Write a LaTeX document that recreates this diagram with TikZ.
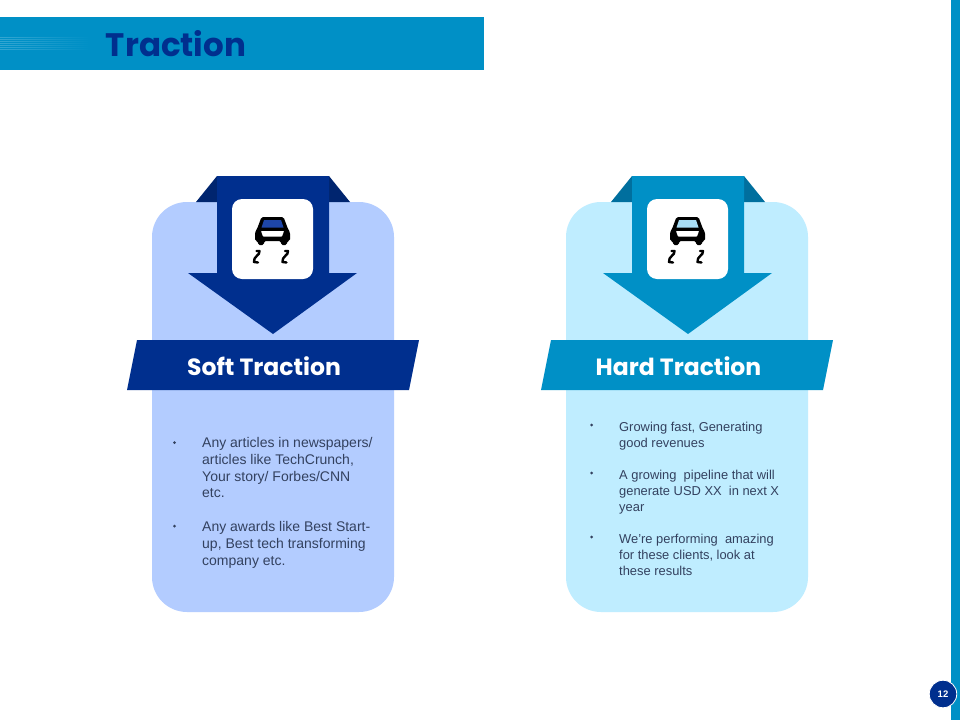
\documentclass[tikz,border=0pt]{standalone}
\usepackage{fontspec}
\setmainfont{Liberation Sans}
\newfontfamily\headfont{Poppins}
\usetikzlibrary{calc}
\definecolor{navy}{HTML}{002F8E}
\definecolor{navyfold}{HTML}{00256F}
\definecolor{cyanbar}{HTML}{0090C6}
\definecolor{cyanfold}{HTML}{006F9E}
\definecolor{softcard}{HTML}{B3CCFF}
\definecolor{hardcard}{HTML}{BFEDFF}
\definecolor{softglass}{HTML}{1E46A8}
\definecolor{hardglass}{HTML}{A8DDF5}
\definecolor{bodytext}{HTML}{33415F}
\tikzset{
  x=1pt,y=-1pt,
  headline/.style={font=\headfont\bfseries\fontsize{23.5}{28}\selectfont,text=white,inner sep=0pt},
  softbody/.style={font=\fontsize{14}{16.6}\selectfont,text=bodytext,align=left,anchor=north west,inner sep=0pt},
  hardbody/.style={font=\fontsize{12.9}{16}\selectfont,text=bodytext,align=left,anchor=north west,inner sep=0pt},
  dotmark/.style={circle,fill=bodytext,inner sep=0pt,minimum size=3pt},
  skid/.style={draw=black,line width=2.4pt,line cap=round,line join=round,fill=none},
  pics/arrowicon/.style n args={3}{code={
    % folds
    \fill[#2] (196,202) -- (217,176) -- (217,202) -- cycle;
    \fill[#2] (329,176) -- (350,202) -- (329,202) -- cycle;
    % arrow
    \fill[#1] (217,176) -- (329,176) -- (329,273) -- (357,273) -- (273,334) -- (188,273) -- (217,273) -- cycle;
    % icon tile
    \fill[white,rounded corners=10] (232,199) rectangle (313,279);
    % car
    \fill[black,rounded corners=1.6] (261.5,217) -- (283.5,217) -- (288,229) -- (290,232) -- (290,241) -- (287,241) -- (287,245) -- (281,245) -- (281,241) -- (264,241) -- (264,245) -- (258,245) -- (258,241) -- (255,241) -- (255,232) -- (257,229) -- cycle;
    \fill[#3] (264,220) -- (281,220) -- (283.5,227.5) -- (261.5,227.5) -- cycle;
    \fill[white,rounded corners=0.6] (261,231) -- (284,231) -- (282,236.5) -- (263,236.5) -- cycle;
    % skid marks
    \draw[skid] (256.5,251) -- (259.5,251) .. controls (260.5,255) and (253,256.5) .. (254,262) -- (258,262.5);
    \draw[skid] (285,251) -- (288,251) .. controls (289,255) and (281.5,256.5) .. (282.5,262) -- (286.5,262.5);
  }}
}
\begin{document}
\begin{tikzpicture}
\useasboundingbox (0,0) rectangle (960,720);
\fill[white] (0,0) rectangle (960,720);
% title band
\fill[cyanbar] (0,17) rectangle (484,70);
\foreach \yy in {37,39,41,43,45,47,49}{
  \shade[left color=cyanbar!80!white,right color=cyanbar] (0,\yy) rectangle (90,\yy+0.7);
}
\node[font=\headfont\bfseries\fontsize{32.5}{36}\selectfont,text=navy,inner sep=0pt] (title) at (176,44) {Traction};
% right edge strip
\fill[cyanbar] (951,0) rectangle (960,720);
\node[circle,fill=navy,draw=white,line width=0.8pt,minimum size=27.5pt,inner sep=0pt,font=\bfseries\fontsize{9.5}{10}\selectfont,text=white] (page) at (943,694) {12};

% cards
\fill[softcard,rounded corners=35] (152,202) rectangle (394,612);
\fill[hardcard,rounded corners=35] (566,202) rectangle (808,612);
% arrows and icons
\pic {arrowicon={navy}{navyfold}{softglass}};
\begin{scope}[shift={(415,0)}]
\pic {arrowicon={cyanbar}{cyanfold}{hardglass}};
\end{scope}

% banners
\fill[navy] (137,340) -- (419,340) -- (409,390) -- (127,390) -- cycle;
\fill[cyanbar] (551,340) -- (833,340) -- (823,390) -- (541,390) -- cycle;
\node[headline] (soft) at (264,366) {Soft Traction};
\node[headline] (hard) at (678.5,366) {Hard Traction};

% soft traction bullets
\node[dotmark] (s1) at (174.5,442.5) {};
\node[softbody] (st1) at (202,437.5) {Any articles in newspapers/\\articles like TechCrunch,\\Your story/ Forbes/CNN\\etc.};
\node[dotmark] (s2) at (174.5,526) {};
\node[softbody] (st2) at (202,521.5) {Any awards like Best Start-\\up, Best tech transforming\\company etc.};

% hard traction bullets
\node[dotmark] (h1) at (591.5,425) {};
\node[hardbody] (ht1) at (619,421.5) {Growing fast, Generating\\good revenues};
\node[dotmark] (h2) at (591.5,473) {};
\node[hardbody] (ht2) at (619,469.5) {A growing\ \ pipeline that will\\generate USD XX\ \ in next X\\year};
\node[dotmark] (h3) at (591.5,537) {};
\node[hardbody] (ht3) at (619,533.5) {We’re performing\ \ amazing\\for these clients, look at\\these results};
\end{tikzpicture}
\end{document}
